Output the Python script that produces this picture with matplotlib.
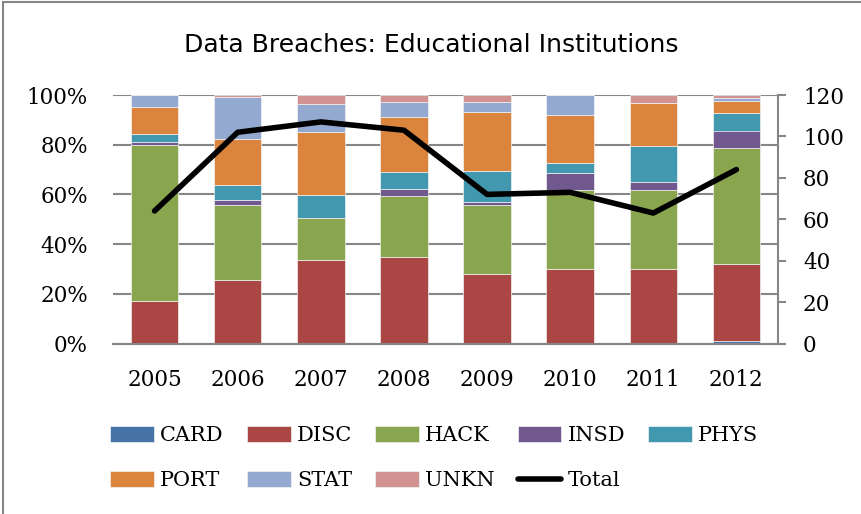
import matplotlib
matplotlib.use("Agg")
from matplotlib import pyplot as plt
from matplotlib.patches import Rectangle
import numpy as np

# breach counts per year
years = ["2005", "2006", "2007", "2008", "2009", "2010", "2011", "2012"]
card = [0, 0, 0, 0, 0, 0, 0, 1]
disc = [11, 26, 36, 36, 20, 22, 19, 26]
hack = [40, 31, 18, 25, 20, 23, 20, 39]
insd = [1, 2, 0, 3, 1, 5, 2, 6]
phys = [2, 6, 10, 7, 9, 3, 9, 6]
port = [7, 19, 27, 23, 17, 14, 11, 4]
stat = [3, 17, 12, 6, 3, 6, 0, 1]
unkn = [0, 1, 4, 3, 2, 0, 2, 1]

series = [("CARD", card, "#4572A7"), ("DISC", disc, "#AA4643"),
          ("HACK", hack, "#89A54E"), ("INSD", insd, "#71588F"),
          ("PHYS", phys, "#4198AF"), ("PORT", port, "#DB843D"),
          ("STAT", stat, "#93A9CF"), ("UNKN", unkn, "#D19392")]

counts = np.array([s[1] for s in series], dtype=float)
total = counts.sum(axis=0)
share = counts / total * 100

serif = ["DejaVu Serif"]
grid_c = "#868686"

fig = plt.figure(figsize=(8.62, 5.14), dpi=100)
fig.patches.append(Rectangle((3.5 / 862, -0.1), 1.2, 1.1 - 2.5 / 514,
                             transform=fig.transFigure, fill=False,
                             edgecolor=grid_c, lw=1.5))

ax = fig.add_axes([113 / 862, 1 - 343.5 / 514, 665 / 862, 248.5 / 514])
x = np.arange(len(years))
bottom = np.zeros(len(years))
handles = {}
for (name, _, col), vals in zip(series, share):
    b = ax.bar(x, vals, 0.57, bottom=bottom, color=col, edgecolor="#f2f2f2",
               linewidth=0.5, label=name, zorder=2)
    handles[name] = b
    bottom += vals

ax.set_xlim(-0.5, len(years) - 0.5)
ax.set_ylim(0, 100)
ax.set_yticks(np.arange(0, 101, 20))
ax.set_yticklabels([f"{v}%" for v in range(0, 101, 20)], fontfamily=serif, fontsize=15.5)
ax.set_xticks(x)
ax.set_xticklabels(years, fontfamily=serif, fontsize=15.5)
ax.tick_params(axis="y", length=0, pad=18)
ax.tick_params(axis="x", length=0, pad=18)
ax.grid(axis="y", color=grid_c, lw=1.5, zorder=0)
ax.set_axisbelow(True)
for s in ["top", "left", "right"]:
    ax.spines[s].set_visible(False)
ax.spines["bottom"].set_color(grid_c)
ax.spines["bottom"].set_linewidth(1.5)

ax2 = ax.twinx()
line, = ax2.plot(x, total, color="black", lw=4, solid_capstyle="round",
                 label="Total", zorder=5)
ax2.set_ylim(0, 120)
ax2.set_yticks(np.arange(0, 121, 20))
ax2.set_yticklabels([str(v) for v in range(0, 121, 20)], fontfamily=serif, fontsize=15.5)
ax2.tick_params(axis="y", length=6, width=1.5, color=grid_c, pad=12)
for s in ["top", "left", "bottom"]:
    ax2.spines[s].set_visible(False)
ax2.spines["right"].set_color(grid_c)
ax2.spines["right"].set_linewidth(1.5)

fig.text(0.5, 1 - 45 / 514, "Data Breaches: Educational Institutions",
         ha="center", va="center", fontsize=18, fontfamily="DejaVu Sans")

order = ["CARD", "PORT", "DISC", "STAT", "HACK", "UNKN", "INSD", "Total", "PHYS"]
handles["Total"] = line
fig.legend([handles[n] for n in order], order, ncol=5, loc="upper left",
           bbox_to_anchor=(102 / 862, 1 - 418 / 514), frameon=False,
           prop={"family": serif, "size": 15}, handlelength=2.1,
           handleheight=0.75, handletextpad=0.3, columnspacing=1.1,
           labelspacing=1.25, borderaxespad=0)

fig.savefig("out.png", dpi=100)
